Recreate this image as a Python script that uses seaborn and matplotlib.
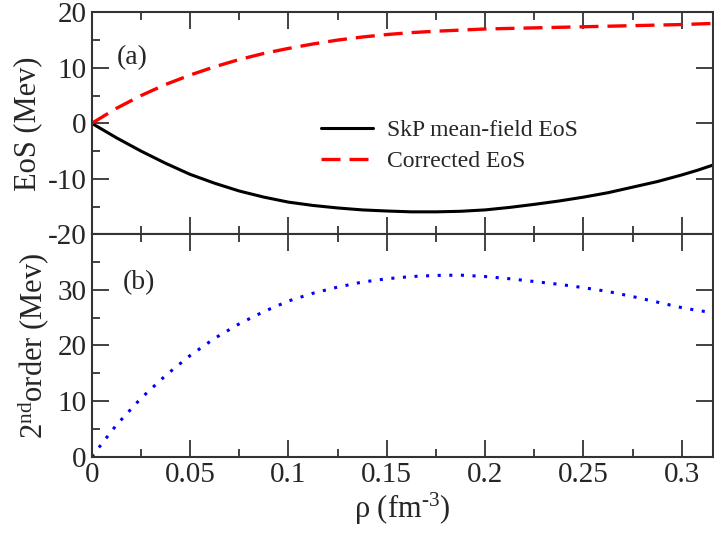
import numpy as np
import pandas as pd
import matplotlib
matplotlib.use("Agg")
import matplotlib.pyplot as plt
import seaborn as sns
from matplotlib.ticker import MultipleLocator, FuncFormatter

sns.set_theme(style="ticks")
plt.rcParams['font.family'] = ['Liberation Serif', 'DejaVu Serif']
plt.rcParams['mathtext.fontset'] = 'custom'
plt.rcParams['mathtext.rm'] = 'Liberation Serif'
plt.rcParams['mathtext.it'] = 'Liberation Serif:italic'
plt.rcParams['axes.unicode_minus'] = False

# values
rho = [0, 0.0125, 0.025, 0.0375, 0.05, 0.0625, 0.075, 0.0875, 0.1, 0.1125,
       0.125, 0.1375, 0.15, 0.1625, 0.175, 0.1875, 0.2, 0.2125, 0.225, 0.2375,
       0.25, 0.2625, 0.275, 0.2875, 0.3, 0.308, 0.316]
eos_skp = [0, -2.6, -5.0, -7.2, -9.2, -10.8, -12.2, -13.3, -14.2, -14.8,
           -15.25, -15.6, -15.8, -15.95, -15.95, -15.85, -15.6, -15.15, -14.6, -14.0,
           -13.3, -12.5, -11.5, -10.5, -9.3, -8.45, -7.5]
eos_corr = [0, 2.7, 5.0, 7.0, 8.7, 10.2, 11.5, 12.6, 13.5, 14.3,
            15.0, 15.55, 16.0, 16.35, 16.6, 16.8, 17.0, 17.1, 17.2, 17.3,
            17.4, 17.5, 17.6, 17.7, 17.8, 17.9, 18.0]
second = [0, 5.7, 10.5, 14.6, 18.2, 21.3, 23.9, 26.1, 28.0, 29.4,
          30.5, 31.4, 32.0, 32.4, 32.6, 32.65, 32.4, 32.0, 31.5, 31.0,
          30.4, 29.7, 28.8, 27.8, 26.8, 26.3, 25.9]

df = pd.DataFrame({"rho": rho, "skp": eos_skp, "corr": eos_corr, "second": second})

fig = plt.figure(figsize=(7.14, 5.34), dpi=100)
ax1 = fig.add_axes([0.1286, 0.5612, 0.8704, 0.4157])
ax2 = fig.add_axes([0.1286, 0.1448, 0.8704, 0.4165], sharex=ax1)

sns.lineplot(data=df, x="rho", y="skp", ax=ax1, color="black", lw=2.2,
             label="SkP mean-field EoS")
sns.lineplot(data=df, x="rho", y="corr", ax=ax1, color="red", lw=2.4,
             dashes=False, label="Corrected EoS")
ax1.lines[1].set_dashes((5.7, 2.7))
sns.lineplot(data=df, x="rho", y="second", ax=ax2, color="blue", lw=2.2)
ax2.lines[0].set_dashes((1, 2.8))
ax2.lines[0].set_dash_capstyle("butt")

ax1.set_xlim(0, 0.316)
ax1.set_ylim(-20, 20)
ax2.set_ylim(0, 40)
ax1.yaxis.set_major_locator(MultipleLocator(10))
ax1.yaxis.set_minor_locator(MultipleLocator(5))
ax2.yaxis.set_major_locator(MultipleLocator(10))
ax2.yaxis.set_minor_locator(MultipleLocator(5))
ax2.set_yticks([0, 10, 20, 30])
ax2.xaxis.set_major_locator(MultipleLocator(0.05))
ax2.xaxis.set_minor_locator(MultipleLocator(0.025))
ax2.xaxis.set_major_formatter(FuncFormatter(lambda v, p: "%g" % round(v, 3)))

for ax in (ax1, ax2):
    for s in ax.spines.values():
        s.set_visible(True)
        s.set_linewidth(1.5)
        s.set_color("#333333")
    ax.tick_params(which="both", direction="in", top=True, right=True,
                   width=1.3, color="#333333", labelsize=21, pad=4)
    ax.tick_params(which="major", length=12)
    ax.tick_params(which="minor", length=6, right=False)
ax1.tick_params(labelbottom=False)

ax1.set_xlabel("")
ax1.set_ylabel("EoS (Mev)", fontsize=22, labelpad=4)
ax2.set_ylabel(r"$2^{\rm nd}$order (Mev)", fontsize=22, labelpad=4)
ax2.set_xlabel(r"ρ (fm$^{\text{-3}}$)", fontsize=22, labelpad=2)

ax1.text(0.04, 0.765, "(a)", transform=ax1.transAxes, fontsize=20)
ax2.text(0.05, 0.755, "(b)", transform=ax2.transAxes, fontsize=20)

ax1.legend(loc="upper left", bbox_to_anchor=(0.354, 0.56), frameon=False,
           fontsize=17, handlelength=2.2, handletextpad=0.6, labelspacing=0.4,
           borderaxespad=0)

fig.savefig("out.png", dpi=100)
